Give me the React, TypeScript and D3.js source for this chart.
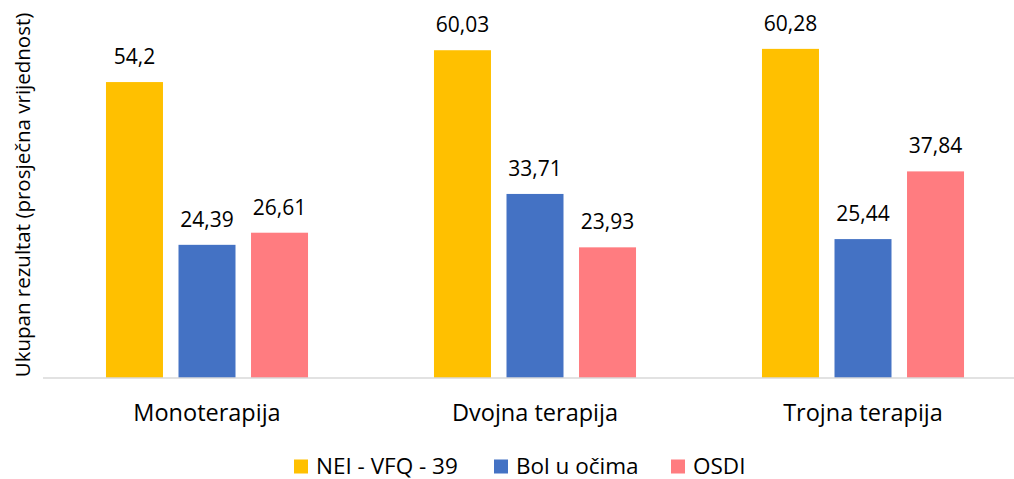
import React from "react";
import * as d3 from "d3";

const categories = ["Monoterapija", "Dvojna terapija", "Trojna terapija"];
const seriesNames = ["NEI - VFQ - 39", "Bol u očima", "OSDI"];
const neiValues = [54.2, 60.03, 60.28];
const bolValues = [24.39, 33.71, 25.44];
const osdiValues = [26.61, 23.93, 37.84];
const labels = [
  ["54,2", "24,39", "26,61"],
  ["60,03", "33,71", "23,93"],
  ["60,28", "25,44", "37,84"],
];
const colors = ["#FFC000", "#4472C4", "#FF7C80"];
const yTitle = "Ukupan rezultat (prosječna vrijednost)";

const W = 1014;
const H = 479;
const FONT = "'Open Sans', sans-serif";

export default function App() {
  const series = [neiValues, bolValues, osdiValues];
  const x0 = d3
    .scaleBand<string>()
    .domain(categories)
    .range([43, 1027])
    .paddingInner(0.384)
    .paddingOuter(0.192);
  const x1 = d3
    .scaleBand<string>()
    .domain(seriesNames)
    .range([0, x0.bandwidth()])
    .paddingInner(0.214);
  const y = d3.scaleLinear().domain([0, 60]).range([378, 50.4]);

  const legendItems = [
    { name: seriesNames[0], sx: 294, tx: 316 },
    { name: seriesNames[1], sx: 494, tx: 516 },
    { name: seriesNames[2], sx: 671, tx: 693 },
  ];
  const legendBase = 473.5;

  return (
    <svg
      width={W}
      height={H}
      style={{ position: "absolute", left: 0, top: 0, background: "#fff" }}
      fontFamily={FONT}
    >
      {categories.map((c, ci) => (
        <g key={c} transform={`translate(${x0(c)},0)`}>
          {seriesNames.map((s, si) => {
            const v = series[si][ci];
            const bx = x1(s)!;
            const bw = x1.bandwidth();
            return (
              <g key={s}>
                <rect
                  x={bx}
                  y={y(v)}
                  width={bw}
                  height={y(0) - y(v)}
                  fill={colors[si]}
                />
                <text
                  x={bx + bw / 2}
                  y={y(v) - 18}
                  textAnchor="middle"
                  fontSize={21}
                  fill="#000"
                >
                  {labels[ci][si]}
                </text>
              </g>
            );
          })}
        </g>
      ))}
      <line x1={43} x2={W} y1={378} y2={378} stroke="#D9D9D9" strokeWidth={1.5} />
      {categories.map((c) => (
        <text
          key={c}
          x={x0(c)! + x0.bandwidth() / 2}
          y={421}
          textAnchor="middle"
          fontSize={23.5}
          fill="#000"
        >
          {c}
        </text>
      ))}
      <text
        transform={`translate(30,195) rotate(-90)`}
        textAnchor="middle"
        fontSize={20.5}
        fill="#000"
      >
        {yTitle}
      </text>
      {legendItems.map((it, i) => (
        <g key={it.name}>
          <rect x={it.sx} y={legendBase - 14} width={14} height={14} fill={colors[i]} />
          <text x={it.tx} y={legendBase} fontSize={22.5} fill="#000">
            {it.name}
          </text>
        </g>
      ))}
    </svg>
  );
}
